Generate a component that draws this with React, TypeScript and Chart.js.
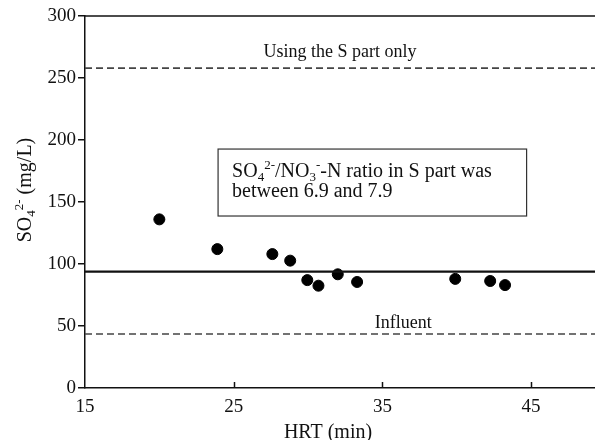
import React, { useEffect, useRef } from "react";
import { Chart, registerables } from "chart.js";

Chart.register(...registerables);

// Data
const hrt = [20, 23.9, 27.6, 28.8, 29.95, 30.7, 32.0, 33.3, 39.9, 42.25, 43.25];
const so4 = [136, 112, 108, 102.7, 87, 82.5, 91.7, 85.5, 88, 86.3, 83];
const sPartOnlyLevel = 258;
const meanLevel = 93.8;
const influentLevel = 43.5;
const xTicks = [15, 25, 35, 45];
const xMin = 15;
const xMax = 49.3;
const yMin = 0;
const yMax = 300;

const SERIF = '"Liberation Serif", "Times New Roman", serif';

type Seg = { t: string; k?: "sub" | "sup" };

function drawRich(ctx: CanvasRenderingContext2D, segs: Seg[], x: number, y: number, size: number, align: "left" | "center" = "left") {
  const small = Math.round(size * 0.66);
  const widths = segs.map((s) => {
    ctx.font = `${s.k ? small : size}px ${SERIF}`;
    return ctx.measureText(s.t).width;
  });
  const total = widths.reduce((a, b) => a + b, 0);
  let cx = align === "center" ? x - total / 2 : x;
  ctx.textBaseline = "alphabetic";
  ctx.textAlign = "left";
  segs.forEach((s, i) => {
    ctx.font = `${s.k ? small : size}px ${SERIF}`;
    let dy = 0;
    if (s.k === "sub") dy = size * 0.2;
    if (s.k === "sup") dy = -size * 0.4;
    ctx.fillText(s.t, cx, y + dy);
    cx += widths[i];
  });
}

const decorPlugin = {
  id: "decor",
  afterDraw(chart: any) {
    const ctx: CanvasRenderingContext2D = chart.ctx;
    const { left, right, top, bottom } = chart.chartArea;
    const xs = chart.scales.x;
    const ys = chart.scales.y;
    ctx.save();
    ctx.fillStyle = "#111";
    ctx.strokeStyle = "#111";
    // top border
    ctx.lineWidth = 1.5;
    ctx.beginPath();
    ctx.moveTo(left, top);
    ctx.lineTo(right, top);
    ctx.stroke();
    // inward x ticks
    xTicks.forEach((v) => {
      if (v === xMin) return;
      const px = Math.round(xs.getPixelForValue(v)) + 0.5;
      ctx.beginPath();
      ctx.moveTo(px, bottom);
      ctx.lineTo(px, bottom - 6);
      ctx.stroke();
    });
    // line labels
    ctx.fillStyle = "#111";
    ctx.font = `18px ${SERIF}`;
    ctx.textAlign = "center";
    ctx.textBaseline = "alphabetic";
    ctx.fillText("Using the S part only", xs.getPixelForValue(32.15), ys.getPixelForValue(sPartOnlyLevel) - 11);
    ctx.fillText("Influent", xs.getPixelForValue(36.4), ys.getPixelForValue(influentLevel) - 6);
    // annotation box
    const bx0 = xs.getPixelForValue(23.95);
    const bx1 = xs.getPixelForValue(44.7);
    const by0 = ys.getPixelForValue(192.7);
    const by1 = ys.getPixelForValue(138.7);
    ctx.fillStyle = "#fff";
    ctx.fillRect(bx0, by0, bx1 - bx0, by1 - by0);
    ctx.strokeStyle = "#333";
    ctx.lineWidth = 1.2;
    ctx.strokeRect(bx0, by0, bx1 - bx0, by1 - by0);
    ctx.fillStyle = "#111";
    drawRich(
      ctx,
      [
        { t: "SO" },
        { t: "4", k: "sub" },
        { t: "2-", k: "sup" },
        { t: "/NO" },
        { t: "3", k: "sub" },
        { t: "-", k: "sup" },
        { t: "-N ratio in S part was" },
      ],
      bx0 + 14,
      by0 + 28,
      20
    );
    drawRich(ctx, [{ t: "between 6.9 and 7.9" }], bx0 + 14, by0 + 48, 20);
    // axis titles
    ctx.fillStyle = "#111";
    drawRich(ctx, [{ t: "HRT (min)" }], 328, 438, 20, "center");
    ctx.save();
    ctx.translate(31, 190);
    ctx.rotate(-Math.PI / 2);
    drawRich(ctx, [{ t: "SO" }, { t: "4", k: "sub" }, { t: "2-", k: "sup" }, { t: " (mg/L)" }], 0, 0, 20, "center");
    ctx.restore();
    ctx.restore();
  },
};

export default function App() {
  const ref = useRef<HTMLCanvasElement | null>(null);
  useEffect(() => {
    document.body.style.margin = "0";
    if (!ref.current) return;
    const hline = (level: number) => [
      { x: xMin, y: level },
      { x: xMax, y: level },
    ];
    const chart = new Chart(ref.current, {
      type: "scatter",
      data: {
        datasets: [
          {
            type: "line",
            data: hline(sPartOnlyLevel),
            borderColor: "#444",
            borderWidth: 1.6,
            borderDash: [7, 4],
            pointRadius: 0,
          },
          {
            type: "line",
            data: hline(influentLevel),
            borderColor: "#444",
            borderWidth: 1.6,
            borderDash: [7, 4],
            pointRadius: 0,
          },
          {
            type: "line",
            data: hline(meanLevel),
            borderColor: "#111",
            borderWidth: 2.2,
            pointRadius: 0,
          },
          {
            type: "scatter",
            data: hrt.map((x, i) => ({ x, y: so4[i] })),
            backgroundColor: "#000",
            borderColor: "#000",
            pointRadius: 5.5,
            pointHoverRadius: 5.5,
          },
        ] as any,
      },
      options: {
        animation: false,
        responsive: false,
        devicePixelRatio: 1,
        layout: { autoPadding: false, padding: { top: 16, right: 0, left: 0, bottom: 0 } },
        plugins: { legend: { display: false }, tooltip: { enabled: false } },
        scales: {
          x: {
            type: "linear",
            min: xMin,
            max: xMax,
            afterBuildTicks: (scale: any) => {
              scale.ticks = xTicks.map((v) => ({ value: v }));
            },
            afterFit: (scale: any) => {
              scale.height = 52;
              scale.paddingRight = 0;
              scale.paddingLeft = 0;
            },
            grid: { display: false, drawTicks: false },
            border: { display: true, color: "#111", width: 1.5 },
            ticks: {
              padding: 8,
              color: "#111",
              font: { family: SERIF, size: 19 },
              callback: (v: any) => String(v),
            },
          },
          y: {
            type: "linear",
            min: yMin,
            max: yMax,
            afterFit: (scale: any) => {
              scale.width = 85;
              scale.paddingTop = 0;
              scale.paddingBottom = 0;
            },
            grid: { drawOnChartArea: false, tickLength: 7, color: "#111", lineWidth: 1.5 },
            border: { display: true, color: "#111", width: 1.5 },
            ticks: {
              stepSize: 50,
              padding: 2,
              color: "#111",
              font: { family: SERIF, size: 19 },
            },
          },
        },
      },
      plugins: [decorPlugin],
    });
    return () => chart.destroy();
  }, []);
  return (
    <div style={{ width: 595, height: 440, background: "#fff" }}>
      <canvas ref={ref} width={595} height={440} style={{ display: "block" }} />
    </div>
  );
}
